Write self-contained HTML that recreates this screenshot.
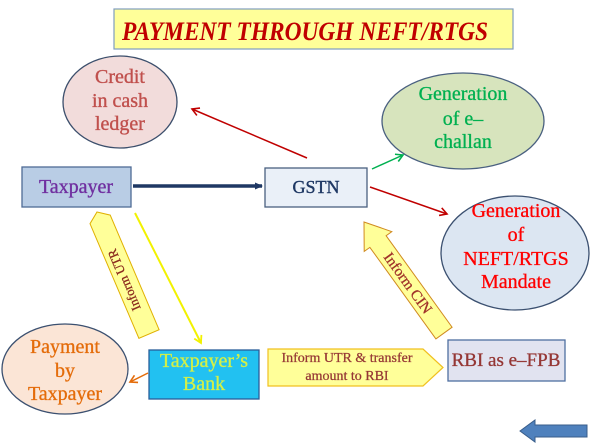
<!DOCTYPE html>
<html><head><meta charset="utf-8"><style>
html,body{margin:0;padding:0;background:#fff;}
svg{display:block;}
text{font-family:"Liberation Serif",serif;}
</style></head><body>
<svg width="600" height="443" viewBox="0 0 600 443" xmlns="http://www.w3.org/2000/svg" font-family="Liberation Serif, serif">
<defs>
<marker id="ar" markerWidth="10" markerHeight="10" refX="8" refY="5" orient="auto" markerUnits="userSpaceOnUse"><path d="M1,1 L8,5 L1,9" fill="none" stroke="#c00000" stroke-width="1.6"/></marker>
<marker id="ag" markerWidth="10" markerHeight="10" refX="8" refY="5" orient="auto" markerUnits="userSpaceOnUse"><path d="M1,1 L8,5 L1,9" fill="none" stroke="#00b050" stroke-width="1.6"/></marker>
<marker id="ay" markerWidth="10" markerHeight="10" refX="8" refY="5" orient="auto" markerUnits="userSpaceOnUse"><path d="M1,1 L8,5 L1,9" fill="none" stroke="#f2f200" stroke-width="1.8"/></marker>
<marker id="ao" markerWidth="10" markerHeight="10" refX="8" refY="5" orient="auto" markerUnits="userSpaceOnUse"><path d="M1,1 L8,5 L1,9" fill="none" stroke="#e46c0a" stroke-width="1.6"/></marker>
<marker id="an" markerWidth="10" markerHeight="10" refX="7" refY="5" orient="auto" markerUnits="userSpaceOnUse"><path d="M0,1.5 L8,5 L0,8.5 Z" fill="#1f3864"/></marker>
</defs>

<!-- Title -->
<rect x="114" y="9" width="399" height="40" fill="#ffff99" stroke="#7f9cbf" stroke-width="1.2"/>
<text x="122" y="40" font-size="26" font-weight="bold" font-style="italic" fill="#c00000" textLength="366" lengthAdjust="spacingAndGlyphs">PAYMENT THROUGH NEFT/RTGS</text>

<!-- Credit ellipse -->
<ellipse cx="120" cy="102" rx="57" ry="46" fill="#f2dcdb" stroke="#3c4f6c" stroke-width="1.3"/>
<g font-size="20" fill="#c0504d" stroke="#c0504d" stroke-width="0.35" text-anchor="middle">
<text x="120" y="83">Credit</text>
<text x="120" y="107">in cash</text>
<text x="120" y="130">ledger</text>
</g>

<!-- Taxpayer -->
<rect x="22" y="167" width="109" height="40" fill="#b9cde5" stroke="#4f6b95" stroke-width="1.3"/>
<text x="76" y="193" font-size="20" fill="#7030a0" stroke="#7030a0" stroke-width="0.35" text-anchor="middle">Taxpayer</text>

<!-- navy arrow -->
<line x1="133" y1="186" x2="262" y2="186" stroke="#1f3864" stroke-width="3.5" marker-end="url(#an)"/>

<!-- GSTN -->
<rect x="265" y="168" width="102" height="39" fill="#eaf0f8" stroke="#4a6080" stroke-width="1.3"/>
<text x="316" y="193" font-size="18" fill="#1f3864" stroke="#1f3864" stroke-width="0.4" text-anchor="middle">GSTN</text>

<!-- Green ellipse -->
<ellipse cx="463" cy="121" rx="81" ry="48" fill="#d7e4bd" stroke="#4a6080" stroke-width="1.3"/>
<g font-size="20" fill="#00b050" stroke="#00b050" stroke-width="0.3" text-anchor="middle">
<text x="463" y="100">Generation</text>
<text x="463" y="125">of  e–</text>
<text x="463" y="148">challan</text>
</g>

<!-- Blue ellipse -->
<ellipse cx="515" cy="253" rx="74" ry="57" fill="#dce6f2" stroke="#3b5070" stroke-width="1.3"/>
<g font-size="20" fill="#ff0000" stroke="#ff0000" stroke-width="0.3" text-anchor="middle">
<text x="516" y="217">Generation</text>
<text x="516" y="241">of</text>
<text x="516" y="265">NEFT/RTGS</text>
<text x="516" y="288">Mandate</text>
</g>

<!-- connectors -->
<line x1="307" y1="158" x2="192" y2="109" stroke="#c00000" stroke-width="1.5" marker-end="url(#ar)"/>
<line x1="370" y1="187" x2="447" y2="214" stroke="#c00000" stroke-width="1.5" marker-end="url(#ar)"/>
<line x1="372" y1="169" x2="403" y2="155" stroke="#00b050" stroke-width="1.5" marker-end="url(#ag)"/>
<line x1="135" y1="213" x2="201" y2="343" stroke="#f2f200" stroke-width="2" marker-end="url(#ay)"/>
<line x1="148" y1="373" x2="130" y2="382" stroke="#e46c0a" stroke-width="1.5" marker-end="url(#ao)"/>

<!-- Inform UTR pentagon -->
<polygon points="97,212 110.2,215.1 159.1,329.7 138.9,338.3 90,223.7" fill="#ffff99" stroke="#e0b000" stroke-width="1"/>
<text x="0" y="0" font-size="13" fill="#8b2a1e" stroke="#8b2a1e" stroke-width="0.3" text-anchor="middle" transform="translate(124,280) rotate(-113) translate(0,4.5)">Inform UTR</text>

<!-- Inform CIN arrow -->
<polygon points="364,222 391.8,231.6 386.1,235.7 452.1,327.2 435.9,338.9 369.9,247.4 364.2,251.4" fill="#ffff99" stroke="#d08a20" stroke-width="1"/>
<text x="0" y="0" font-size="15" fill="#a0322a" stroke="#a0322a" stroke-width="0.3" text-anchor="middle" transform="translate(408,283) rotate(54.2) translate(0,5)">Inform CIN</text>

<!-- Taxpayer's Bank -->
<rect x="149" y="350" width="110" height="49" fill="#22c1f1" stroke="#2a5d9a" stroke-width="1.3"/>
<g font-size="20" fill="#d4f046" stroke="#d4f046" stroke-width="0.3" text-anchor="middle">
<text x="204" y="367">Taxpayer’s</text>
<text x="204" y="390">Bank</text>
</g>

<!-- Payment ellipse -->
<ellipse cx="65" cy="369" rx="63" ry="45" fill="#fbe5d6" stroke="#3b5070" stroke-width="1.3"/>
<g font-size="20" fill="#e46c0a" stroke="#e46c0a" stroke-width="0.3" text-anchor="middle">
<text x="65" y="353">Payment</text>
<text x="65" y="377">by</text>
<text x="65" y="400">Taxpayer</text>
</g>

<!-- UTR transfer homeplate -->
<polygon points="268,349 423,349 443,367.5 423,386 268,386" fill="#ffff99" stroke="#f0c020" stroke-width="1.2"/>
<g font-size="14" fill="#953735" stroke="#953735" stroke-width="0.25" text-anchor="middle">
<text x="347" y="362">Inform UTR &amp; transfer</text>
<text x="347" y="380">amount to RBI</text>
</g>

<!-- RBI -->
<rect x="448" y="340" width="117" height="41" fill="#e1e3f0" stroke="#4f6fa0" stroke-width="1.3"/>
<text x="506" y="366" font-size="19" fill="#953735" stroke="#953735" stroke-width="0.3" text-anchor="middle">RBI as e–FPB</text>

<!-- blue left arrow -->
<polygon points="520,431 535,420 535,425 587,425 587,437 535,437 535,442" fill="#4f81bd" stroke="#385d8a" stroke-width="1"/>
</svg>
</body></html>
